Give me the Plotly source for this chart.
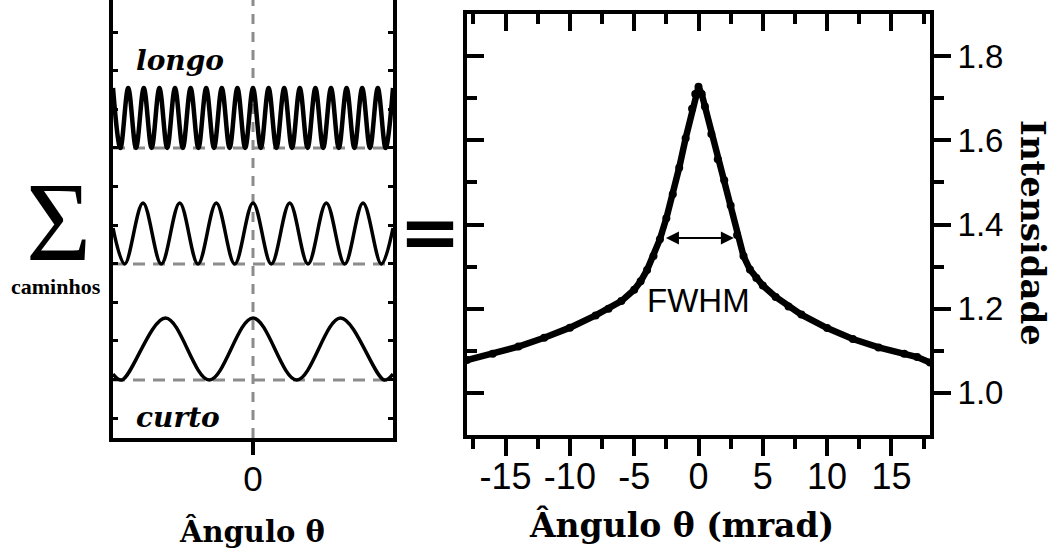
import plotly.graph_objects as go

# ---- left panel: interference terms for long / medium / short paths ----
# extrema positions (panel units) and levels of each oscillating term
longo_theta = [-1.40, -1.326, -1.248, -1.170, -1.092, -1.014, -0.936, -0.858, -0.780,
               -0.702, -0.624, -0.546, -0.468, -0.390, -0.312, -0.234, -0.156, -0.078,
               0.0, 0.078, 0.156, 0.234, 0.312, 0.390, 0.468, 0.546, 0.624, 0.702,
               0.780, 0.858, 0.936, 1.014, 1.092, 1.170, 1.248, 1.326, 1.40]
longo_level = [3.50, 2.90] * 18 + [3.50]

medio_theta = [-1.40, -1.283, -1.100, -0.917, -0.733, -0.550, -0.367, -0.183, 0.0,
               0.183, 0.367, 0.550, 0.733, 0.917, 1.100, 1.283, 1.40]
medio_level = [2.10, 1.74, 2.35, 1.74, 2.35, 1.74, 2.35, 1.74, 2.35,
               1.74, 2.35, 1.74, 2.35, 1.74, 2.35, 1.74, 2.10]

curto_theta = [-1.40, -1.3125, -0.875, -0.4375, 0.0, 0.4375, 0.875, 1.3125, 1.40]
curto_level = [0.64, 0.58, 1.20, 0.58, 1.20, 0.58, 1.20, 0.58, 0.64]

baseline_levels = [0.58, 1.74, 2.90]

# ---- right panel: measured backscattering cone ----
theta_mrad = [-18.0, -16.0, -14.0, -12.0, -10.0, -8.0, -7.0, -6.0, -5.0, -4.5, -4.0,
              -3.5, -3.0, -2.5, -2.0, -1.5, -1.0, -0.5, -0.25, 0.0, 0.25, 0.5, 1.0,
              1.5, 2.0, 2.5, 3.0, 3.5, 4.0, 4.5, 5.0, 6.0, 7.0, 8.0, 10.0, 12.0,
              14.0, 16.0, 17.0, 18.0]
intensidade = [1.078, 1.093, 1.110, 1.131, 1.155, 1.184, 1.200, 1.218, 1.245, 1.265,
               1.292, 1.325, 1.365, 1.415, 1.472, 1.535, 1.605, 1.675, 1.710, 1.727,
               1.710, 1.680, 1.615, 1.555, 1.505, 1.445, 1.375, 1.325, 1.293, 1.273,
               1.255, 1.228, 1.205, 1.186, 1.154, 1.128, 1.108, 1.093, 1.085, 1.072]

x_major = [-15, -10, -5, 0, 5, 10, 15]
x_major_text = ["-15", "-10", "-5", "0", "5", "10", "15"]
x_minor = [-17.5, -12.5, -7.5, -2.5, 2.5, 7.5, 12.5, 17.5]
y_major = [1.0, 1.2, 1.4, 1.6, 1.8]
y_minor = [1.1, 1.3, 1.5, 1.7]

fwhm_left, fwhm_right, fwhm_level = -2.65, 2.75, 1.368

W, H = 1058, 549
SERIF = "DejaVu Serif"
SANS = "Liberation Sans"


def px(xp):
    return xp / W


def py(yp):
    return 1 - yp / H


fig = go.Figure()

for xs, ys, lw in [(longo_theta, longo_level, 4.5), (medio_theta, medio_level, 3.5),
                   (curto_theta, curto_level, 3.5)]:
    fig.add_trace(go.Scatter(x=xs, y=ys, mode="lines", xaxis="x", yaxis="y",
                             line=dict(color="black", width=lw, shape="spline",
                                       smoothing=1.0),
                             hoverinfo="skip"))

fig.add_trace(go.Scatter(x=theta_mrad, y=intensidade, mode="lines+markers",
                         xaxis="x2", yaxis="y2",
                         line=dict(color="black", width=6.5),
                         marker=dict(color="black", size=8)))
# carrier trace for the mirrored tick axes
fig.add_trace(go.Scatter(x=[None], y=[None], xaxis="x3", yaxis="y3",
                         mode="markers", showlegend=False))

shapes = []
for lv in baseline_levels:
    shapes.append(dict(type="line", xref="x domain", yref="y", x0=0, x1=1, y0=lv, y1=lv,
                       line=dict(color="#8c8c8c", width=3, dash="12px,8px"),
                       layer="below"))
shapes.append(dict(type="line", xref="x", yref="y domain", x0=0, x1=0, y0=0, y1=1,
                   line=dict(color="#8c8c8c", width=3, dash="10px,8px"), layer="below"))

annotations = [
    dict(text="Σ", x=px(58), y=py(222), height=86,
         font=dict(family="Liberation Serif", size=112)),
    dict(text="<b>caminhos</b>", x=px(56), y=py(286),
         font=dict(family="Liberation Serif", size=22)),
    dict(text="<b>=</b>", x=px(430), y=py(232), font=dict(family="DejaVu Sans", size=74)),
    dict(text="<b><i>longo</i></b>", x=px(180), y=py(60), font=dict(family=SERIF, size=28)),
    dict(text="<b><i>curto</i></b>", x=px(178), y=py(417), font=dict(family=SERIF, size=28)),
    dict(text="<b>Ângulo θ</b>", x=px(252), y=py(531), font=dict(family=SERIF, size=29)),
    dict(text="<b>Ângulo θ (mrad)</b>", x=px(681), y=py(525), font=dict(family=SERIF, size=33)),
    dict(text="<b>Intensidade</b>", x=px(1033), y=py(233), textangle=90,
         font=dict(family=SERIF, size=34)),
    dict(text="FWHM", x=0, y=1.219, xref="x2", yref="y2", font=dict(family=SANS, size=33)),
]
for a in annotations:
    a.setdefault("xref", "paper")
    a.setdefault("yref", "paper")
    a["showarrow"] = False
    a["xanchor"] = "center"
    a["yanchor"] = "middle"
    a["font"]["color"] = "black"

annotations.append(dict(text="", x=fwhm_right, y=fwhm_level, ax=fwhm_left, ay=fwhm_level,
                        xref="x2", yref="y2", axref="x2", ayref="y2", showarrow=True,
                        arrowhead=2, arrowside="end+start", arrowwidth=2, arrowsize=1.3,
                        arrowcolor="black"))

axis_common = dict(showgrid=False, zeroline=False, showline=True, linecolor="black",
                   linewidth=4, tickcolor="black")

fig.update_layout(
    width=W, height=H, margin=dict(l=0, r=0, t=0, b=0),
    paper_bgcolor="white", plot_bgcolor="white", showlegend=False,
    shapes=shapes, annotations=annotations,
    xaxis=dict(domain=[px(113), px(393)], range=[-1.4, 1.4], anchor="y",
               tickvals=[0], ticktext=["0"], ticks="outside", ticklen=13, tickwidth=4,
               ticklabelstandoff=-6,
               tickfont=dict(family=SANS, size=35, color="black"), **axis_common),
    yaxis=dict(domain=[py(438), 1], range=[0, 4.38], anchor="x",
               mirror="ticks", ticks="inside", ticklen=5, tickwidth=3,
               tick0=0.2, dtick=0.386, showticklabels=False, **axis_common),
    xaxis2=dict(domain=[px(467), px(930)], range=[-18, 18], anchor="y2",
                tickvals=x_major, ticktext=x_major_text, ticks="outside",
                ticklen=17, tickwidth=4, ticklabelstandoff=-10,
                minor=dict(tickvals=x_minor, ticks="outside", ticklen=10, tickwidth=4,
                           tickcolor="black"),
                tickfont=dict(family=SANS, size=36, color="black"), **axis_common),
    yaxis2=dict(domain=[py(435), py(14)], range=[0.9, 1.9], anchor="x2", side="right",
                tickvals=y_major, ticktext=[f"{v:.1f}" for v in y_major],
                ticks="outside", ticklen=17, tickwidth=4,
                minor=dict(tickvals=y_minor, ticks="outside", ticklen=10, tickwidth=4,
                           tickcolor="black"),
                tickfont=dict(family=SANS, size=33, color="black"), **axis_common),
    xaxis3=dict(overlaying="x2", side="top", anchor="y2", range=[-18, 18],
                tickvals=x_major, ticks="inside", ticklen=17, tickwidth=4,
                minor=dict(tickvals=x_minor, ticks="inside", ticklen=10, tickwidth=4,
                           tickcolor="black"),
                showticklabels=False, **axis_common),
    yaxis3=dict(overlaying="y2", side="left", anchor="x2", range=[0.9, 1.9],
                tickvals=y_major, ticks="inside", ticklen=17, tickwidth=4,
                minor=dict(tickvals=y_minor, ticks="inside", ticklen=10, tickwidth=4,
                           tickcolor="black"),
                showticklabels=False, **axis_common),
)

fig.write_html("out.html")
